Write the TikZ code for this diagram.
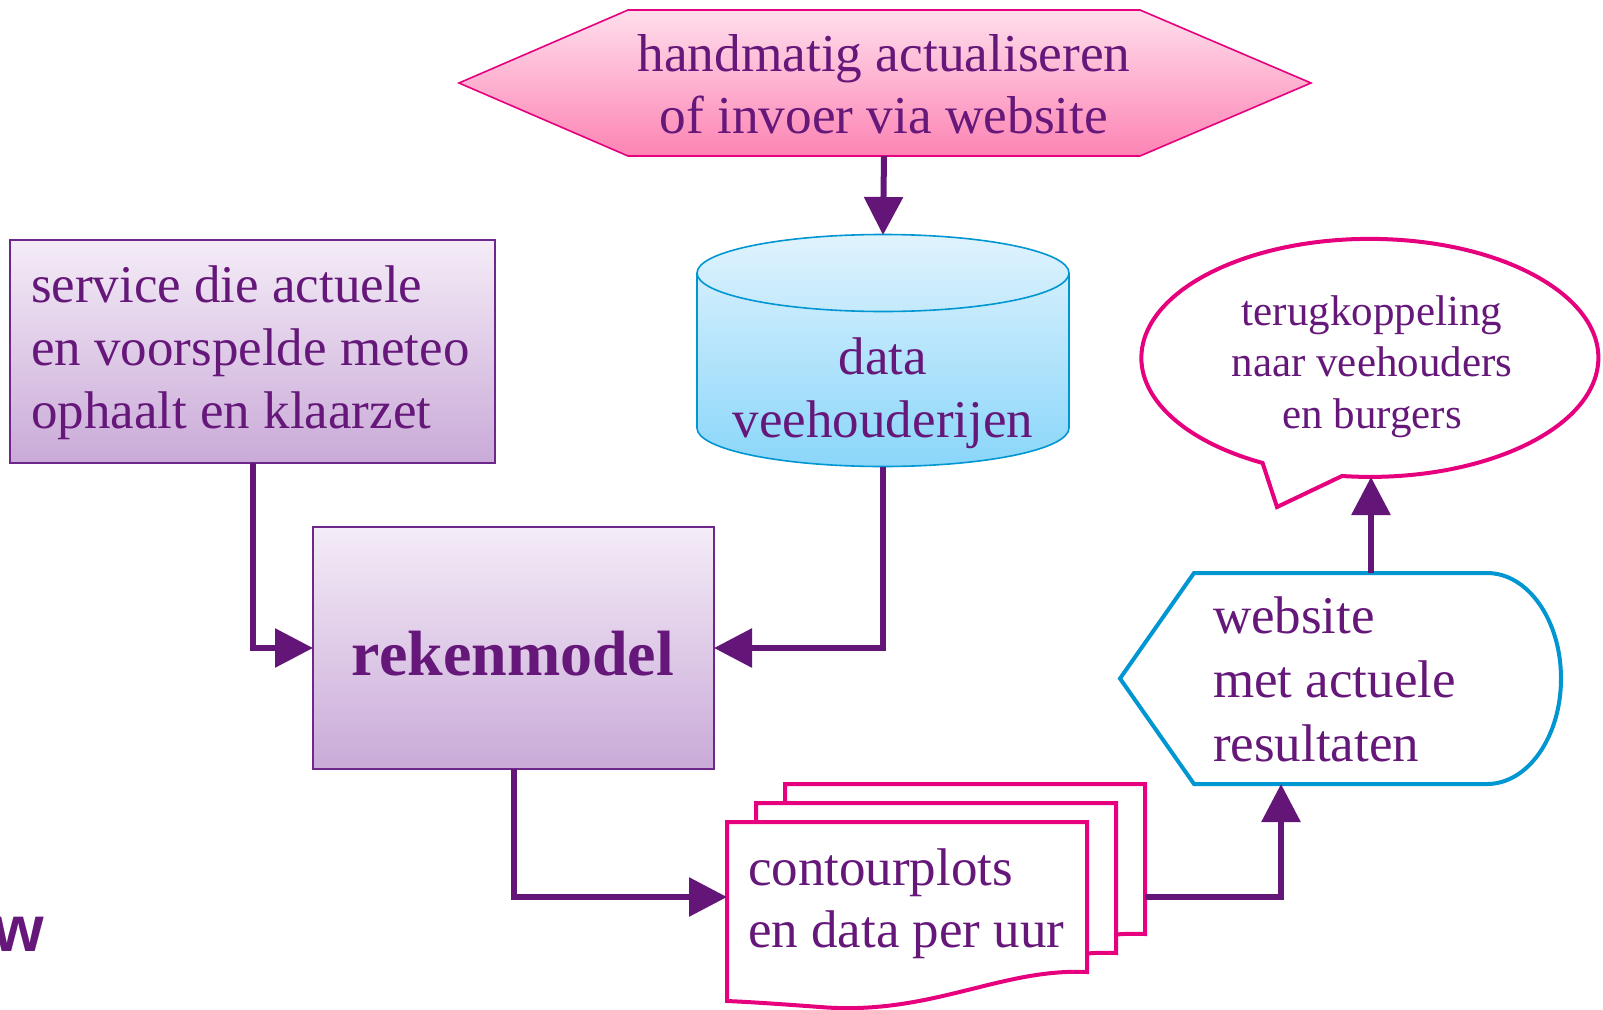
\documentclass[tikz,border=0pt]{standalone}
\usepackage{fontspec}
\setmainfont{Liberation Serif}
\newfontfamily\logofont{Liberation Sans}
\usetikzlibrary{arrows.meta}
\definecolor{txt}{RGB}{102,24,122}
\definecolor{arr}{RGB}{100,22,120}
\definecolor{mag}{RGB}{230,0,126}
\definecolor{cyanb}{RGB}{0,150,210}
\definecolor{boxb}{RGB}{110,40,140}
\definecolor{boxtop}{RGB}{244,236,247}
\definecolor{boxbot}{RGB}{202,170,216}
\definecolor{hextop}{RGB}{255,222,236}
\definecolor{hexbot}{RGB}{252,132,180}
\definecolor{cyltop}{RGB}{224,243,253}
\definecolor{cylbot}{RGB}{138,214,250}
\newcommand\lefttab[1]{\begin{tabular}[t]{@{}l@{}}#1\end{tabular}}
\newcommand\centab[1]{\begin{tabular}[t]{@{}c@{}}#1\end{tabular}}
\tikzset{
  shapebox/.style={inner sep=0, outer sep=0},
  txtnode/.style={inner sep=0, outer sep=0, text=txt},
  procbox/.style={draw=boxb, line width=1.6pt, top color=boxtop, bottom color=boxbot, inner sep=0, outer sep=0},
  flow/.style={draw=arr, line width=6pt, line join=miter, -{Triangle[length=38pt,width=38pt]}},
  docshape/.style={draw=mag, line width=4pt, fill=white, line join=miter}
}
\begin{document}
\begin{tikzpicture}[x=1pt,y=-1pt]
\useasboundingbox (0,0) rectangle (1603,1009);
\fill[white] (0,0) rectangle (1603,1009);

% hexagon
\path[draw=mag, line width=1.6pt, top color=hextop, bottom color=hexbot]
  (459,83) -- (628,10) -- (1140,10) -- (1311,83) -- (1140,156) -- (628,156) -- cycle;
\node[shapebox, minimum width=852pt, minimum height=146pt] (hex) at (884,83) {};
\node[txtnode, anchor=base] (hextext) at (884,71)
  {\fontsize{53.3}{62}\selectfont\centab{handmatig actualiseren\\of invoer via website}};

% cylinder
\path[draw=cyanb, line width=1.6pt, top color=cyltop, bottom color=cylbot]
  (697,273) -- (697,428) arc[start angle=180,end angle=360,x radius=186pt,y radius=38.5pt]
  -- (1069,273) arc[start angle=0,end angle=180,x radius=186pt,y radius=38.5pt] -- cycle;
\draw[cyanb, line width=1.6pt] (697,273) arc[start angle=180,end angle=360,x radius=186pt,y radius=38.5pt];
\node[shapebox, minimum width=372pt, minimum height=232pt] (cyl) at (883,351) {};
\node[txtnode, anchor=base] (cyltext) at (883,374)
  {\fontsize{53}{63}\selectfont\centab{data\\veehouderijen}};

% service box
\node[procbox, minimum width=485pt, minimum height=223pt] (svc) at (252.5,351.5) {};
\node[txtnode, anchor=base west] (svctext) at (31,302)
  {\fontsize{53}{63}\selectfont\lefttab{service die actuele\\en voorspelde meteo\\ophaalt en klaarzet}};

% rekenmodel
\node[procbox, minimum width=401pt, minimum height=242pt] (rek) at (513.5,648) {};
\node[txtnode, anchor=base] (rektext) at (513,675) {\fontsize{64}{70}\selectfont\bfseries rekenmodel};

% documents
\foreach \dx/\dy in {58/-38, 29/-19, 0/0} {
  \path[docshape, shift={(\dx,\dy)}] (727,822) -- (1087,822) -- (1087,972)
    .. controls (1000,968) and (930,1016) .. (820,1007)
    .. controls (780,1004) and (750,1002) .. (727,1001) -- cycle;
}
\node[shapebox, minimum width=360pt, minimum height=150pt] (doc) at (907,897) {};
\node[shapebox, minimum width=360pt, minimum height=150pt] (docback) at (965,859) {};
\node[txtnode, anchor=base west] (doctext) at (748,885)
  {\fontsize{53}{62}\selectfont\lefttab{contourplots\\en data per uur}};

% display
\path[docshape, draw=cyanb] (1194,573) -- (1487,573)
  arc[start angle=90,end angle=-90,x radius=74pt,y radius=105.5pt]
  -- (1194,784) -- (1120,678.5) -- cycle;
\node[shapebox, minimum width=441pt, minimum height=211pt] (disp) at (1340.5,678.5) {};
\coordinate (dispin) at (1281,784);
\node[txtnode, anchor=base west] (disptext) at (1213,633)
  {\fontsize{53}{64}\selectfont\lefttab{website\\met actuele\\resultaten}};

% speech bubble
\path[docshape] (1342,476) arc[start angle=-97,end angle=242,x radius=228.5pt,y radius=119pt]
  -- (1277,507) -- cycle;
\node[shapebox, minimum width=457pt, minimum height=238pt] (bubble) at (1371,358) {};
\node[txtnode, anchor=base] (bubbletext) at (1372,325)
  {\fontsize{43}{51.5}\selectfont\centab{terugkoppeling\\naar veehouders\\en burgers}};

% logo fragment (cut off at the left edge, as in the reference)
\node[txtnode, anchor=base east, font=\logofont\bfseries\fontsize{65}{70}\selectfont] (logo) at (44,951) {w};

% connectors
\draw[flow] (hex.south) -- (cyl.north);
\draw[flow] (svc.south) |- (rek.west);
\draw[flow] (cyl.south) |- (rek.east);
\draw[flow] (rek.south) |- (doc.west);
\draw[flow] (doc.east -| docback.east) -| (dispin);
\draw[flow] (bubble.south |- disp.north) -- (bubble.south);
\end{tikzpicture}
\end{document}
